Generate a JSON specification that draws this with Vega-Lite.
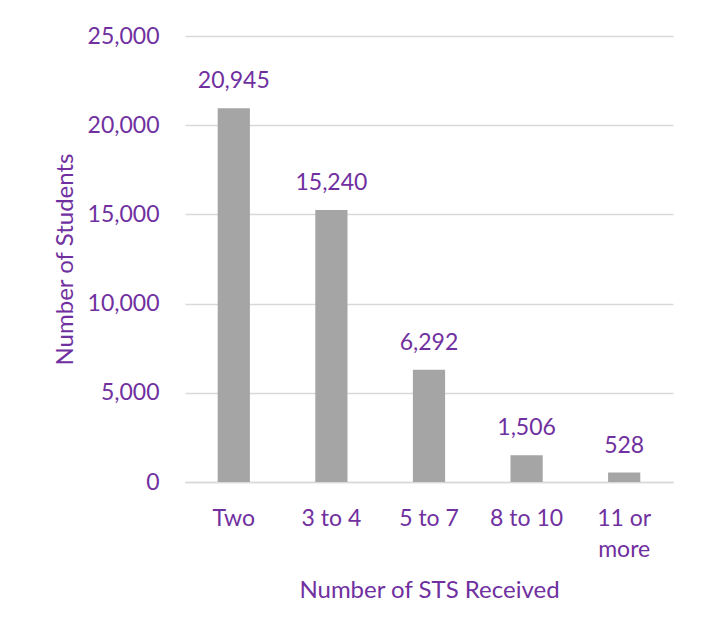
{
  "$schema": "https://vega.github.io/schema/vega-lite/v6.json",
  "width": 488,
  "height": 446,
  "autosize": {"type": "none"},
  "padding": {"left": 185, "top": 36, "right": 33, "bottom": 155},
  "background": "white",
  "config": {
    "view": {"stroke": null},
    "font": "Lato",
    "axis": {"labelFont": "Lato", "titleFont": "Lato", "labelColor": "#7030A0", "titleColor": "#7030A0", "labelFontSize": 23, "titleFontSize": 24, "titleFontWeight": "normal"}
  },
  "data": {
    "values": [
      {"category": "Two", "students": 20945},
      {"category": "3 to 4", "students": 15240},
      {"category": "5 to 7", "students": 6292},
      {"category": "8 to 10", "students": 1506},
      {"category": "11 or more", "students": 528}
    ]
  },
  "encoding": {
    "x": {
      "field": "category",
      "type": "nominal",
      "sort": null,
      "scale": {"paddingInner": 0.67, "paddingOuter": 0.335},
      "axis": {
        "title": "Number of STS Received",
        "labelAngle": 0,
        "ticks": false,
        "domainColor": "#D9D9D9",
        "domainWidth": 1.5,
        "labelPadding": 25,
        "labelLineHeight": 31,
        "labelBaseline": "top",
        "labelExpr": "datum.label == '11 or more' ? ['11 or', 'more'] : datum.label",
        "titlePadding": 17
      }
    },
    "y": {
      "field": "students",
      "type": "quantitative",
      "scale": {"domain": [0, 25000]},
      "axis": {
        "title": "Number of Students",
        "values": [0, 5000, 10000, 15000, 20000, 25000],
        "format": ",.0f",
        "ticks": false,
        "domain": false,
        "gridColor": "#D9D9D9",
        "gridWidth": 1.5,
        "labelPadding": 26,
        "titlePadding": 10
      }
    }
  },
  "layer": [
    {"mark": {"type": "bar", "color": "#A5A5A5"}},
    {
      "mark": {"type": "text", "color": "#7030A0", "fontSize": 23, "font": "Lato", "baseline": "middle", "dy": -27},
      "encoding": {"text": {"field": "students", "type": "quantitative", "format": ",.0f"}}
    }
  ]
}
